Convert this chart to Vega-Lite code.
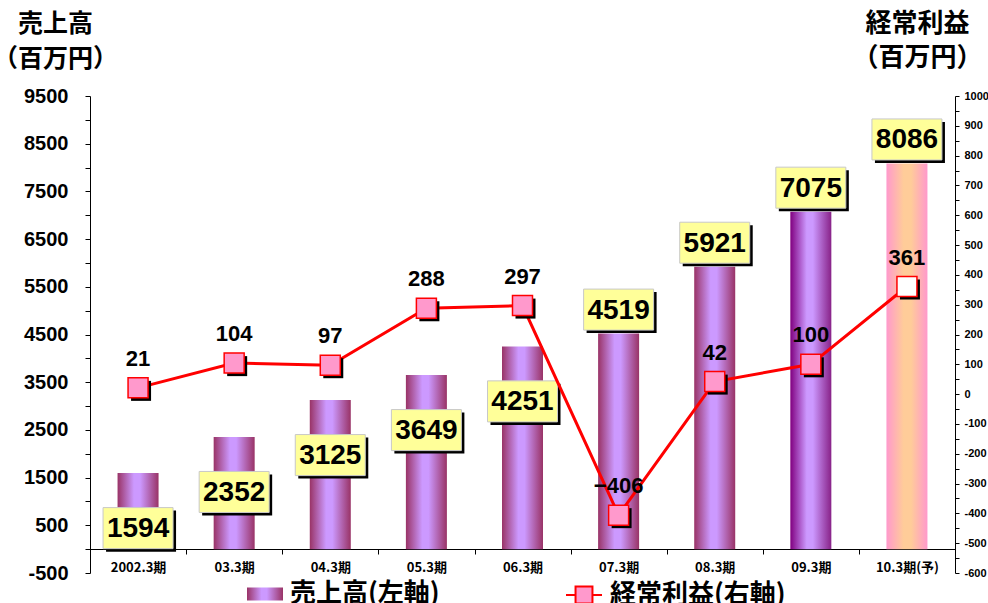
{
  "$schema": "https://vega.github.io/schema/vega-lite/v6.json",
  "width": 865,
  "height": 477,
  "autosize": {"type": "none"},
  "padding": {"left": 90, "top": 96, "right": 33, "bottom": 30},
  "background": "white",
  "config": {"view": {"stroke": null}},
  "data": {"values": [
    {"period": "2002.3期", "sales": 1594, "profit": 21},
    {"period": "03.3期", "sales": 2352, "profit": 104},
    {"period": "04.3期", "sales": 3125, "profit": 97},
    {"period": "05.3期", "sales": 3649, "profit": 288},
    {"period": "06.3期", "sales": 4251, "profit": 297},
    {"period": "07.3期", "sales": 4519, "profit": -406},
    {"period": "08.3期", "sales": 5921, "profit": 42},
    {"period": "09.3期", "sales": 7075, "profit": 100},
    {"period": "10.3期(予)", "sales": 8086, "profit": 361}
  ]},
  "encoding": {
    "x": {
      "field": "period", "type": "nominal", "sort": null,
      "scale": {"paddingInner": 0, "paddingOuter": 0},
      "axis": {
        "title": null, "orient": "bottom", "offset": -24,
        "labelAngle": 0, "domainColor": "black", "tickColor": "black",
        "tickSize": 5, "tickOffset": -48, "labelOffset": 48, "labelPadding": 7,
        "labelFont": "Noto Sans CJK JP", "labelFontWeight": "bold", "labelFontSize": 13, "labelColor": "black"
      }
    }
  },
  "layer": [
    {
      "encoding": {
        "y": {
          "field": "sales", "type": "quantitative",
          "scale": {"domain": [-500, 9500], "nice": false, "zero": false},
          "axis": {
            "orient": "left", "grid": false,
            "values": [-500, 0, 500, 1000, 1500, 2000, 2500, 3000, 3500, 4000, 4500, 5000, 5500, 6000, 6500, 7000, 7500, 8000, 8500, 9000, 9500],
            "labelExpr": "(datum.value + 500) % 1000 == 0 ? datum.value : ''",
            "domainColor": "black", "tickColor": "black", "tickSize": 5, "labelPadding": 17,
            "labelFont": "Liberation Sans", "labelFontSize": 20, "labelFontWeight": "bold", "labelColor": "black",
            "title": ["売上高", "（百万円）"],
            "titleAngle": 0, "titleX": -35, "titleY": -85, "titleAlign": "center", "titleBaseline": "top",
            "titleFont": "Noto Sans CJK JP", "titleFontSize": 25, "titleFontWeight": "bold", "titleColor": "black",
            "titleLineHeight": 35
          }
        }
      },
      "layer": [
        {
          "transform": [{"filter": "datum.period != '09.3期' && datum.period != '10.3期(予)'"}],
          "mark": {"type": "bar", "size": 41, "strokeWidth": 0,
            "fill": {"gradient": "linear", "x1": 0, "x2": 1, "y1": 0, "y2": 0,
              "stops": [{"offset": 0, "color": "#993366"}, {"offset": 0.4, "color": "#CC99FF"}, {"offset": 0.55, "color": "#CC99FF"}, {"offset": 1, "color": "#993366"}]}},
          "encoding": {
            "y2": {"datum": 0},
            "stroke": {"datum": "売上高(左軸)", "type": "nominal", "scale": {"range": ["#993366"]},
              "legend": {"title": null, "orient": "none", "legendX": 157, "legendY": 480, "padding": 0,
                "symbolType": "M-1,-0.36L1,-0.36L1,0.36L-1,0.36Z", "symbolSize": 1296, "symbolStrokeWidth": 0,
                "labelFont": "Noto Sans CJK JP", "labelFontWeight": "bold", "labelFontSize": 26, "labelColor": "black",
                "labelOffset": 7, "labelLimit": 300}}
          }
        },
        {
          "transform": [{"filter": "datum.period == '09.3期'"}],
          "mark": {"type": "bar", "size": 41, "strokeWidth": 0,
            "fill": {"gradient": "linear", "x1": 0, "x2": 1, "y1": 0, "y2": 0,
              "stops": [{"offset": 0, "color": "#800080"}, {"offset": 0.4, "color": "#CC99FF"}, {"offset": 0.55, "color": "#CC99FF"}, {"offset": 1, "color": "#882288"}]}},
          "encoding": {"y2": {"datum": 0}}
        },
        {
          "transform": [{"filter": "datum.period == '10.3期(予)'"}],
          "mark": {"type": "bar", "size": 41, "strokeWidth": 0,
            "fill": {"gradient": "linear", "x1": 0, "x2": 1, "y1": 0, "y2": 0,
              "stops": [{"offset": 0, "color": "#FF99CC"}, {"offset": 0.42, "color": "#FFCC99"}, {"offset": 0.6, "color": "#FFCC99"}, {"offset": 1, "color": "#FF99CC"}]}},
          "encoding": {"y2": {"datum": 0}}
        },
        {
          "mark": {"type": "point", "shape": "M-1,-0.586L1,-0.586L1,0.586L-1,0.586Z", "size": 4900, "filled": true,
            "fill": "black", "opacity": 1, "strokeWidth": 0, "xOffset": 3,
            "yOffset": {"expr": "datum.sales < 4300 ? 58 : -21"}}
        },
        {
          "mark": {"type": "point", "shape": "M-1,-0.586L1,-0.586L1,0.586L-1,0.586Z", "size": 4900, "filled": true,
            "fill": "#FFFF99", "opacity": 1, "stroke": "#C8C8C8", "strokeWidth": 1,
            "yOffset": {"expr": "datum.sales < 4300 ? 55 : -24"}}
        },
        {
          "mark": {"type": "text", "font": "Liberation Sans", "fontWeight": "bold", "fontSize": 28,
            "baseline": "middle", "align": "center", "color": "black",
            "yOffset": {"expr": "datum.sales < 4300 ? 56 : -23"}},
          "encoding": {"text": {"field": "sales", "type": "quantitative", "format": "d"}}
        }
      ]
    },
    {
      "encoding": {
        "y": {
          "field": "profit", "type": "quantitative",
          "scale": {"domain": [-600, 1000], "nice": false, "zero": false},
          "axis": {
            "orient": "right", "grid": false,
            "values": [-600, -550, -500, -450, -400, -350, -300, -250, -200, -150, -100, -50, 0, 50, 100, 150, 200, 250, 300, 350, 400, 450, 500, 550, 600, 650, 700, 750, 800, 850, 900, 950, 1000],
            "labelExpr": "datum.value % 100 == 0 ? datum.value : ''",
            "domainColor": "black", "tickColor": "black", "tickSize": 4, "labelPadding": 5,
            "labelFont": "Liberation Sans", "labelFontSize": 11, "labelFontWeight": "bold", "labelColor": "black",
            "title": ["経常利益", "（百万円）"],
            "titleAngle": 0, "titleX": -38, "titleY": -86, "titleAlign": "center", "titleBaseline": "top",
            "titleFont": "Noto Sans CJK JP", "titleFontSize": 26, "titleFontWeight": "bold", "titleColor": "black",
            "titleLineHeight": 34
          }
        }
      },
      "layer": [
        {
          "mark": {"type": "line", "strokeWidth": 3},
          "encoding": {
            "stroke": {"datum": "経常利益(右軸)", "type": "nominal", "scale": {"range": ["#FF0000"]},
              "legend": {"title": null, "orient": "none", "legendX": 475, "legendY": 480, "padding": 0,
                "symbolType": "M-1,0L-0.47,0M0.47,0L1,0M-0.47,-0.47L0.47,-0.47L0.47,0.47L-0.47,0.47Z",
                "symbolSize": 1296, "symbolStrokeWidth": 2, "symbolFillColor": "#FF99CC",
                "labelFont": "Noto Sans CJK JP", "labelFontWeight": "bold", "labelFontSize": 26, "labelColor": "black",
                "labelOffset": 7, "labelLimit": 300}}
          }
        },
        {
          "mark": {"type": "point", "shape": "square", "size": 400, "filled": true, "fill": "black", "opacity": 1,
            "strokeWidth": 0, "xOffset": 3, "yOffset": 3}
        },
        {
          "mark": {"type": "point", "shape": "square", "size": 400, "filled": true, "opacity": 1,
            "stroke": "#FF0000", "strokeWidth": 1.5},
          "encoding": {
            "fill": {"condition": {"test": "datum.period == '10.3期(予)'", "value": "white"}, "value": "#FF99CC"}
          }
        },
        {
          "mark": {"type": "text", "font": "Liberation Sans", "fontWeight": "bold", "fontSize": 22,
            "baseline": "middle", "align": "center", "color": "black", "yOffset": -29},
          "encoding": {"text": {"field": "profit", "type": "quantitative", "format": "d"}}
        }
      ]
    }
  ],
  "resolve": {"scale": {"y": "independent", "stroke": "independent"}}
}
